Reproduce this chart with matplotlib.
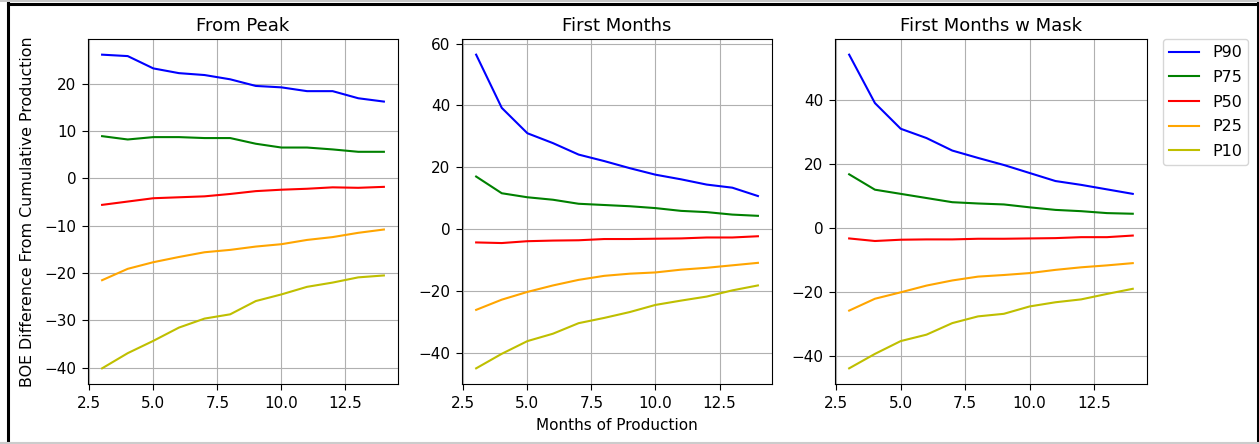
import matplotlib.pyplot as plt
from matplotlib.lines import Line2D

months = [3, 4, 5, 6, 7, 8, 9, 10, 11, 12, 13, 14]
labels = ["P90", "P75", "P50", "P25", "P10"]
colors = ["b", "g", "r", "orange", "y"]

# From peak
peak_p90 = [26.1, 25.8, 23.2, 22.2, 21.8, 20.9, 19.5, 19.2, 18.4, 18.4, 16.9, 16.2]
peak_p75 = [8.9, 8.2, 8.7, 8.7, 8.5, 8.5, 7.3, 6.5, 6.5, 6.1, 5.6, 5.6]
peak_p50 = [-5.6, -4.9, -4.2, -4.0, -3.8, -3.3, -2.7, -2.4, -2.2, -1.9, -2.0, -1.8]
peak_p25 = [-21.5, -19.1, -17.7, -16.6, -15.6, -15.1, -14.4, -13.9, -13.0, -12.4, -11.5, -10.8]
peak_p10 = [-40.1, -36.9, -34.3, -31.5, -29.6, -28.7, -25.9, -24.5, -22.9, -22.0, -20.9, -20.5]

# First months
first_p90 = [56.4, 39.2, 31.0, 27.8, 24.1, 22.0, 19.7, 17.6, 16.1, 14.4, 13.4, 10.7]
first_p75 = [17.0, 11.6, 10.3, 9.5, 8.2, 7.8, 7.4, 6.8, 5.9, 5.5, 4.7, 4.3]
first_p50 = [-4.3, -4.5, -3.9, -3.7, -3.6, -3.2, -3.2, -3.1, -3.0, -2.7, -2.7, -2.3]
first_p25 = [-26.1, -22.8, -20.3, -18.2, -16.4, -15.1, -14.4, -14.0, -13.1, -12.5, -11.7, -10.9]
first_p10 = [-45.0, -40.3, -36.2, -33.8, -30.4, -28.7, -26.8, -24.5, -23.1, -21.8, -19.8, -18.2]

# First months with mask
mask_p90 = [54.1, 39.0, 31.0, 28.1, 24.2, 21.9, 19.7, 17.2, 14.7, 13.5, 12.1, 10.7]
mask_p75 = [16.8, 12.0, 10.7, 9.4, 8.1, 7.7, 7.4, 6.5, 5.7, 5.3, 4.7, 4.5]
mask_p50 = [-3.2, -4.0, -3.6, -3.5, -3.5, -3.3, -3.3, -3.2, -3.1, -2.8, -2.8, -2.3]
mask_p25 = [-25.7, -22.0, -20.0, -17.9, -16.3, -15.1, -14.6, -14.0, -13.0, -12.2, -11.6, -10.9]
mask_p10 = [-43.7, -39.2, -35.2, -33.2, -29.6, -27.5, -26.7, -24.4, -23.1, -22.2, -20.5, -18.9]

panels = [
    ("From Peak", [peak_p90, peak_p75, peak_p50, peak_p25, peak_p10]),
    ("First Months", [first_p90, first_p75, first_p50, first_p25, first_p10]),
    ("First Months w Mask", [mask_p90, mask_p75, mask_p50, mask_p25, mask_p10]),
]

fig = plt.figure(figsize=(12.59, 4.44), dpi=100)
lefts = [0.0699, 0.367, 0.6632]
widths = [0.2462, 0.2462, 0.2478]

axes = []
for (title, series), left, width in zip(panels, lefts, widths):
    ax = fig.add_axes([left, 0.1351, width, 0.7771])
    for vals, lab, c in zip(series, labels, colors):
        ax.plot(months, vals, color=c, lw=1.5, label=lab)
    ax.set_title(title, fontsize=13)
    ax.grid(True, color="#b0b0b0", lw=0.8)
    ax.set_xticks([2.5, 5.0, 7.5, 10.0, 12.5])
    ax.set_xticklabels(["2.5", "5.0", "7.5", "10.0", "12.5"])
    ax.tick_params(labelsize=11, length=4.5, pad=4)
    axes.append(ax)

axes[0].set_ylabel("BOE Difference From Cumulative Production", fontsize=11.4)
axes[0].yaxis.set_label_coords(-0.172, 0.5)
axes[1].set_xlabel("Months of Production", fontsize=11, labelpad=5)
axes[2].legend(loc="upper left", bbox_to_anchor=(1.05, 1.0), fontsize=11.5,
               borderaxespad=0.0, labelspacing=0.6, handlelength=1.9)

# notebook output frame
fig.add_artist(Line2D([8 / 1259, 8 / 1259], [0, 1 - 3 / 444], color="black", lw=2.2))
fig.add_artist(Line2D([8 / 1259, 1], [1 - 4 / 444, 1 - 4 / 444], color="black", lw=2.2))
fig.add_artist(Line2D([1258 / 1259, 1258 / 1259], [0, 1 - 3 / 444], color="black", lw=2.2))
fig.add_artist(Line2D([0, 1], [1 / 444, 1 / 444], color="#cccccc", lw=1.5))
fig.add_artist(Line2D([0, 1], [1 - 1 / 444, 1 - 1 / 444], color="#bbbbbb", lw=1.2))

fig.savefig("out.png", dpi=100)
